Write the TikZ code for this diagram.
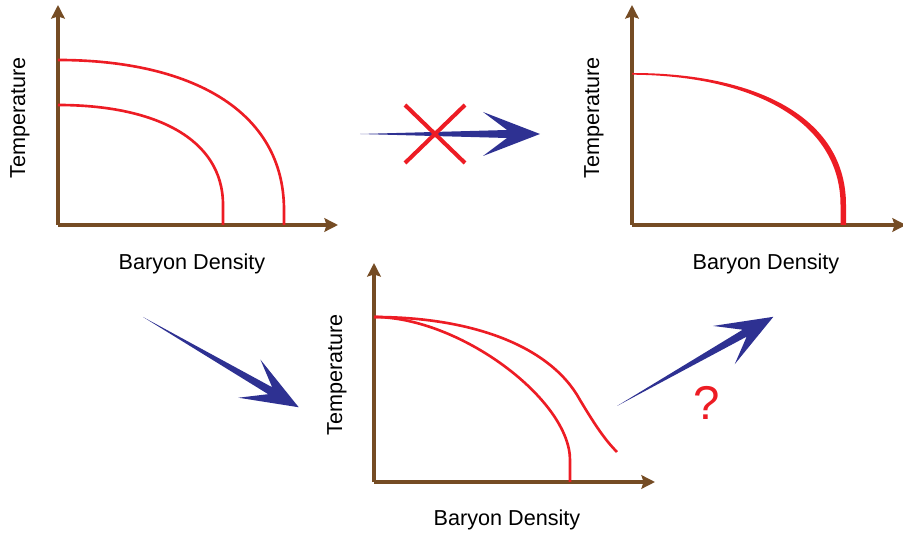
\documentclass[tikz,border=0pt]{standalone}
\usepackage{fontspec}
\setmainfont{Liberation Sans}
\usetikzlibrary{arrows.meta,calc}
\definecolor{axisbrown}{RGB}{117,76,36}
\definecolor{curvered}{RGB}{237,28,36}
\definecolor{arrowblue}{RGB}{46,49,146}

\begin{document}
\begin{tikzpicture}[
  x=0.02cm, y=0.02cm,
  font=\fontsize{12.3}{14}\selectfont,
  axis/.style={draw=axisbrown, line width=2.2pt, -{Stealth[length=2.7mm, width=2.7mm, inset=0.4mm]}},
  curve/.style={draw=curvered, line width=1.5pt},
  lbl/.style={inner sep=0pt},
  bluearrow/.pic={
    \fill[arrowblue] (0,0) -- (147,4) -- (123,22) -- (180,0) -- (123,-22) -- (147,-4) -- cycle;
  }
]
\useasboundingbox (0,0) rectangle (903,537);

\coordinate (o1) at (58,312);
\coordinate (o2) at (632,312);
\coordinate (o3) at (374,55);

\draw[axis] (o1) -- (58,532);
\draw[axis] (o1) -- (338,312);
\draw[curve] (58,477) .. controls (190,477) and (284,427) .. (284,327) -- (284,312);
\draw[curve] (58,432) .. controls (154,432) and (223,399) .. (223,332) -- (223,312);
\node[lbl, rotate=90] (t1) at (20,419) {Temperature};
\node[lbl] (b1) at (192,273) {Baryon Density};

\draw[axis] (o2) -- (632,532);
\draw[axis] (o2) -- (906,312);
\fill[curvered] (632,464) .. controls (756,464) and (846,420) .. (846,332) -- (846,312)
  -- (840.5,312) -- (840.5,332) .. controls (840.5,416) and (752,461.5) .. (632,462.3) -- cycle;
\node[lbl, rotate=90] (t2) at (594,419) {Temperature};
\node[lbl] (b2) at (766,273) {Baryon Density};

\draw[axis] (o3) -- (374,274);
\draw[axis] (o3) -- (655,55);
\draw[curve] (374,220) .. controls (460,220) and (570,137) .. (570,77) -- (570,55);
\draw[curve] (374,220) .. controls (470,220) and (550,192) .. (580,137)
  .. controls (595,112) and (605,97) .. (617,85);
\node[lbl, rotate=90] (t3) at (337,162) {Temperature};
\node[lbl] (b3) at (507,17) {Baryon Density};

\pic at (360,403) {bluearrow};
\pic[rotate=-30.1] at (143,220) {bluearrow};
\pic[rotate=29.7] at (617,131) {bluearrow};

\coordinate (x) at (435,403);
\draw[curvered, line width=2.3pt] ($(x)+(-30,29)$) -- ($(x)+(30,-29)$);
\draw[curvered, line width=2.3pt] ($(x)+(30,29)$) -- ($(x)+(-30,-29)$);
\node[text=curvered, font=\fontsize{27}{30}\selectfont] (q) at (707,134) {?};
\end{tikzpicture}
\end{document}
